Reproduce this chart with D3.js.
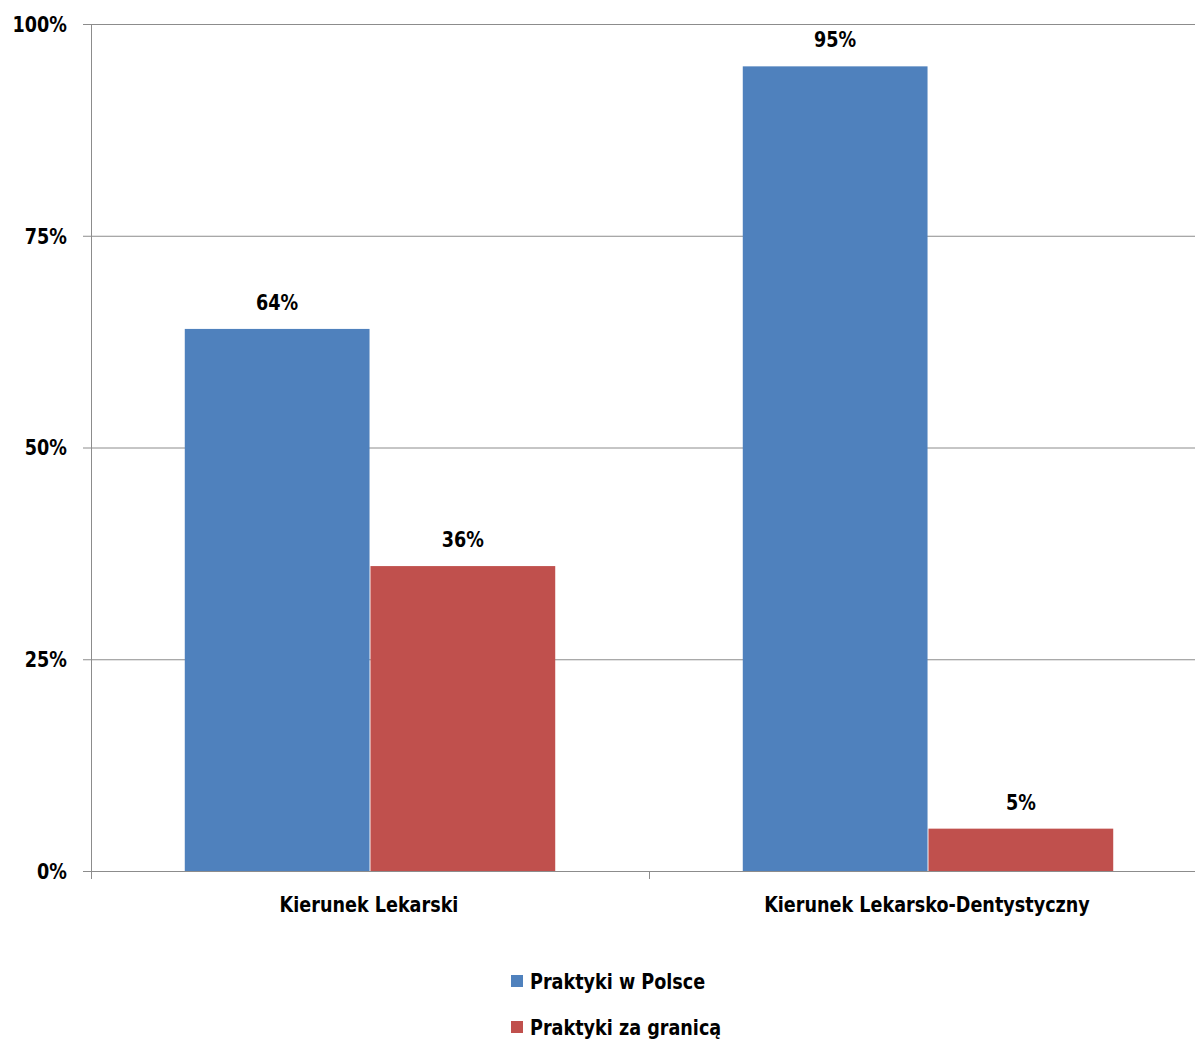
<!DOCTYPE html>
<html>
<head>
<meta charset="utf-8">
<script src="https://cdn.jsdelivr.net/npm/d3@7"></script>
<style>
  html, body { margin: 0; padding: 0; background: #fff; }
  svg text { font-family: "Liberation Sans Narrow", "DejaVu Sans Condensed", sans-serif; font-weight: bold; fill: #000; }
</style>
</head>
<body>
<svg id="chart" width="1195" height="1041"></svg>
<script>
// Share of internships by field of study
const categories = ["Kierunek Lekarski", "Kierunek Lekarsko-Dentystyczny"];
const seriesNames = ["Praktyki w Polsce", "Praktyki za granicą"];
const polska = [64, 95];
const zagranica = [36, 5];
const yTicks = [0, 25, 50, 75, 100];
const colors = ["#4F81BD", "#C0504D"];

const svg = d3.select("#chart");
const plotLeft = 91, plotTop = 24, plotBottom = 871, bandStep = 558;
const FS = 22, SX = 0.89;

// place text at (px, py) with a narrower horizontal stretch
const place = (px, py) => `translate(${px},${py}) scale(${SX},1)`;

const x = d3.scaleBand().domain(categories).range([plotLeft, plotLeft + bandStep * categories.length]).paddingInner(0).paddingOuter(0);
const xs = d3.scaleBand().domain(seriesNames).range([0, x.bandwidth()]).paddingInner(0.005).paddingOuter(0.505);
const y = d3.scaleLinear().domain([0, 100]).range([plotBottom, plotTop]);

// horizontal gridlines with outward ticks
svg.append("g").selectAll("line").data(yTicks).join("line")
  .attr("x1", plotLeft - 8).attr("x2", 1195)
  .attr("y1", d => y(d) + 0.5).attr("y2", d => y(d) + 0.5)
  .attr("stroke", "#8c8c8c").attr("stroke-width", 1);

// vertical axis
svg.append("line").attr("x1", plotLeft + 0.5).attr("x2", plotLeft + 0.5)
  .attr("y1", plotTop).attr("y2", plotBottom + 8).attr("stroke", "#8c8c8c");

// category separator ticks
svg.append("g").selectAll("line").data(d3.range(categories.length + 1)).join("line")
  .attr("x1", i => plotLeft + i * bandStep + 0.5).attr("x2", i => plotLeft + i * bandStep + 0.5)
  .attr("y1", plotBottom).attr("y2", plotBottom + 8).attr("stroke", "#8c8c8c");

// y labels
svg.append("g").selectAll("text").data(yTicks).join("text")
  .attr("transform", d => place(67, y(d))).attr("dy", "0.36em")
  .attr("text-anchor", "end").attr("font-size", FS)
  .text(d => d + "%");

const data = categories.map((c, i) => ({ cat: c, values: [
  { s: seriesNames[0], v: polska[i], c: colors[0] },
  { s: seriesNames[1], v: zagranica[i], c: colors[1] }
]}));

const groups = svg.append("g").selectAll("g").data(data).join("g")
  .attr("transform", d => `translate(${x(d.cat)},0)`);

groups.selectAll("rect").data(d => d.values).join("rect")
  .attr("x", d => xs(d.s)).attr("width", xs.bandwidth())
  .attr("y", d => y(d.v)).attr("height", d => plotBottom - y(d.v))
  .attr("fill", d => d.c);

groups.selectAll("text.val").data(d => d.values).join("text")
  .attr("class", "val")
  .attr("transform", d => place(xs(d.s) + xs.bandwidth() / 2, y(d.v) - 19))
  .attr("text-anchor", "middle").attr("font-size", FS)
  .text(d => d.v + "%");

// category labels
svg.append("g").selectAll("text").data(categories).join("text")
  .attr("transform", d => place(x(d) + x.bandwidth() / 2 - 1, 912))
  .attr("text-anchor", "middle").attr("font-size", FS)
  .text(d => d);

// legend
const legend = svg.append("g").selectAll("g").data(seriesNames).join("g")
  .attr("transform", (d, i) => `translate(511,${981 + i * 46})`);
legend.append("rect").attr("x", 0).attr("y", -6).attr("width", 12).attr("height", 12)
  .attr("fill", (d, i) => colors[i]);
legend.append("text").attr("transform", place(19, 0)).attr("dy", "0.36em")
  .attr("font-size", FS).text(d => d);
</script>
</body>
</html>
